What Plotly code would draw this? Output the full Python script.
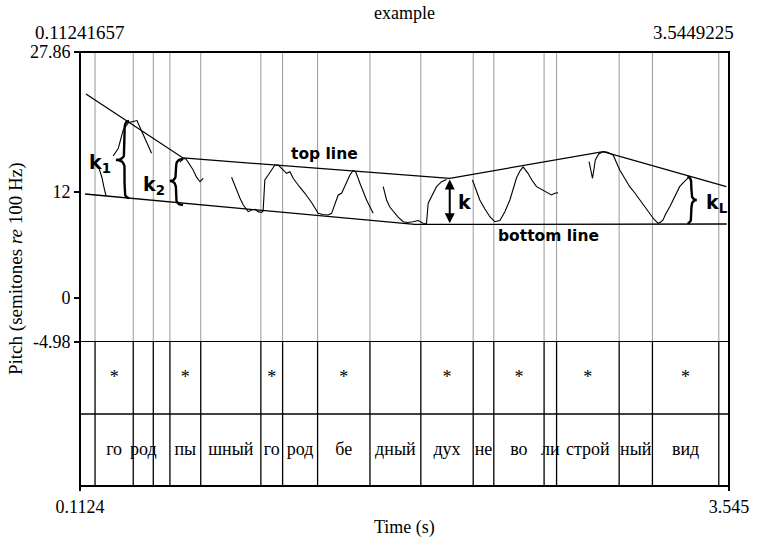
import numpy as np
import plotly.graph_objects as go

# ---------------- data ----------------
T_MIN, T_MAX = 0.1124, 3.545
P_MIN, P_MAX = -4.98, 27.86
pitch_ticks = [27.86, 12, 0, -4.98]
pitch_ticktext = ["27.86", "12", "0", "-4.98"]

# interval boundaries (s)
boundaries = [0.192, 0.394, 0.500, 0.588, 0.751, 1.069, 1.184, 1.369, 1.646,
              1.915, 2.192, 2.301, 2.567, 2.633, 2.964, 3.140, 3.491]
syllables = ["", "го", "род", "", "пы", "шный", "го", "род", "бе", "дный",
             "дух", "не", "во", "ли", "строй", "ный", "вид", ""]
stress = ["", "*", "", "", "*", "", "*", "", "*", "", "*", "", "*", "", "*", "", "*", ""]

# pitch contour segments (time s, semitones re 100 Hz)
seg_t = [
    [0.213, 0.229, 0.239, 0.250],
    [0.288, 0.315, 0.341, 0.368, 0.393, 0.414, 0.424, 0.465, 0.491],
    [0.641, 0.660, 0.673, 0.689, 0.711, 0.728, 0.747, 0.764],
    [0.914, 0.927, 0.941, 0.958, 0.976, 1.002, 1.020, 1.038, 1.055, 1.073, 1.081,
     1.088, 1.090, 1.108, 1.127, 1.143, 1.161, 1.187, 1.205, 1.223, 1.240, 1.270,
     1.302, 1.339, 1.372, 1.397, 1.425, 1.443, 1.460, 1.478, 1.496, 1.522, 1.540,
     1.557, 1.571, 1.593, 1.628, 1.663],
    [1.716, 1.734, 1.751, 1.769, 1.794, 1.822, 1.846, 1.874, 1.901, 1.927, 1.945,
     1.954, 1.972, 1.998, 2.025, 2.051],
    [2.188, 2.206, 2.227, 2.254, 2.280, 2.306, 2.333, 2.359, 2.386, 2.402, 2.421,
     2.439, 2.456, 2.482, 2.502, 2.527, 2.562, 2.588, 2.606, 2.624, 2.641],
    [2.805, 2.814, 2.823, 2.830, 2.838, 2.856, 2.879, 2.899, 2.932, 2.967, 2.994,
     3.020, 3.047, 3.073, 3.099, 3.126, 3.147, 3.170, 3.184, 3.196, 3.210, 3.232,
     3.258, 3.284, 3.311, 3.337],
]
seg_p = [
    [14.72, 13.59, 12.57, 11.55],
    [16.08, 16.96, 19.03, 19.85, 19.99, 20.10, 19.59, 17.52, 16.39],
    [15.40, 15.80, 15.74, 15.18, 14.50, 13.71, 13.17, 13.56],
    [13.67, 12.91, 12.23, 11.33, 10.53, 9.78, 9.97, 10.05, 9.78, 9.69, 9.86,
     12.23, 13.37, 13.93, 14.61, 15.06, 15.06, 14.50, 14.12, 14.31, 13.56, 12.69,
     11.86, 10.76, 9.59, 9.46, 9.40, 9.59, 10.53, 11.67, 11.86, 12.99, 13.93,
     14.45, 14.27, 12.99, 11.10, 9.59],
    [12.61, 11.10, 10.31, 9.78, 9.18, 8.64, 8.55, 8.64, 8.78, 8.46, 8.44,
     10.73, 11.47, 12.61, 13.17, 13.42],
    [13.37, 12.35, 11.10, 10.08, 9.21, 8.64, 8.78, 9.74, 11.10, 12.23, 13.59,
     14.38, 14.84, 14.12, 13.37, 12.61, 12.23, 11.86, 11.67, 11.86, 11.93],
    [15.44, 14.50, 13.56, 14.50, 15.63, 16.31, 16.57, 16.54, 16.20, 14.50, 13.59,
     12.61, 11.89, 11.10, 10.31, 9.59, 8.95, 8.46, 8.61, 8.84, 9.52, 10.34,
     11.55, 12.61, 13.25, 13.74],
]

top_line_t = [0.144, 0.657, 2.068, 2.879, 3.531]
top_line_p = [23.10, 15.86, 13.56, 16.57, 12.61]
bottom_line_t = [0.139, 1.883, 3.533]
bottom_line_p = [11.78, 8.33, 8.38]

# braces: spine time, tip time, arm-end time, bottom, top, tip height
braces = [
    dict(spine=0.348, tip=0.303, arm=0.372, bot=11.33, top=20.05, mid=15.63),
    dict(spine=0.620, tip=0.588, arm=0.657, bot=10.53, top=15.74, mid=13.25),
    dict(spine=3.346, tip=3.374, arm=3.325, bot=8.46, top=13.74, mid=11.10),
]
k_arrow_t = 2.068
k_arrow_p = [8.46, 13.59]

k_labels = ["<b>k<sub>1</sub></b>", "<b>k<sub>2</sub></b>", "<b>k</b>", "<b>k<sub>L</sub></b>"]
k_label_t = [0.218, 0.504, 2.146, 3.482]
k_label_p = [15.29, 12.69, 10.84, 10.65]

line_labels = ["<b>top line</b>", "<b>bottom line</b>"]
line_label_t = [1.408, 2.588]
line_label_p = [16.31, 7.02]

SERIF = "Liberation Serif"
SANS = "DejaVu Sans"

fig = go.Figure()

# ---------------- pitch area ----------------
for st, sp in zip(seg_t, seg_p):
    fig.add_trace(go.Scatter(x=st, y=sp, mode="lines", xaxis="x", yaxis="y",
                             line=dict(color="black", width=1.1), hoverinfo="skip"))

fig.add_trace(go.Scatter(x=top_line_t, y=top_line_p, mode="lines", xaxis="x", yaxis="y",
                         line=dict(color="black", width=1.3), hoverinfo="skip"))
fig.add_trace(go.Scatter(x=bottom_line_t, y=bottom_line_p, mode="lines", xaxis="x", yaxis="y",
                         line=dict(color="black", width=1.3), hoverinfo="skip"))


def bez(p0, c, p1, n=12):
    s = np.linspace(0, 1, n)
    x = (1 - s) ** 2 * p0[0] + 2 * (1 - s) * s * c[0] + s ** 2 * p1[0]
    y = (1 - s) ** 2 * p0[1] + 2 * (1 - s) * s * c[1] + s ** 2 * p1[1]
    return list(x), list(y)


for b in braces:
    r = 0.9
    xs, ys = [], []
    parts = [
        ((b["arm"], b["top"]), (b["spine"], b["top"]), (b["spine"], b["top"] - r)),
        ((b["spine"], b["top"] - r), (b["spine"], b["mid"] + r), (b["spine"], b["mid"] + r)),
        ((b["spine"], b["mid"] + r), (b["spine"], b["mid"]), (b["tip"], b["mid"])),
        ((b["tip"], b["mid"]), (b["spine"], b["mid"]), (b["spine"], b["mid"] - r)),
        ((b["spine"], b["mid"] - r), (b["spine"], b["bot"] + r), (b["spine"], b["bot"] + r)),
        ((b["spine"], b["bot"] + r), (b["spine"], b["bot"]), (b["arm"], b["bot"])),
    ]
    for p0, c, p1 in parts:
        bx, by = bez(p0, c, p1)
        xs += bx
        ys += by
    fig.add_trace(go.Scatter(x=xs, y=ys, mode="lines", xaxis="x", yaxis="y",
                             line=dict(color="black", width=2.4), hoverinfo="skip"))

# ---------------- tiers ----------------
edges = [T_MIN] + boundaries + [T_MAX]
centers = [(a + b) / 2 for a, b in zip(edges[:-1], edges[1:])]
star_x = [c for c, s in zip(centers, stress) if s]
star_txt = [s for s in stress if s]
syl_x = [c for c, s in zip(centers, syllables) if s]
syl_txt = [s for s in syllables if s]
fig.add_trace(go.Scatter(x=star_x, y=[1.5] * len(star_x), mode="text", text=star_txt,
                         xaxis="x", yaxis="y2", textposition="middle center",
                         textfont=dict(family=SERIF, size=18, color="black"), hoverinfo="skip"))
fig.add_trace(go.Scatter(x=syl_x, y=[0.5] * len(syl_x), mode="text", text=syl_txt,
                         xaxis="x", yaxis="y2", textposition="middle center",
                         textfont=dict(family=SERIF, size=18, color="black"), hoverinfo="skip"))

shapes = []
for bt in boundaries:
    shapes.append(dict(type="line", xref="x", yref="y", x0=bt, x1=bt, y0=P_MIN, y1=P_MAX,
                       line=dict(color="#9a9a9a", width=1), layer="below"))
    shapes.append(dict(type="line", xref="x", yref="y2", x0=bt, x1=bt, y0=0, y1=2,
                       line=dict(color="black", width=1.3)))
shapes.append(dict(type="line", xref="paper", yref="y", x0=0, x1=1, y0=P_MIN, y1=P_MIN,
                   line=dict(color="black", width=1.8)))
shapes.append(dict(type="line", xref="paper", yref="y2", x0=0, x1=1, y0=1, y1=1,
                   line=dict(color="black", width=1.3)))
shapes.append(dict(type="rect", xref="paper", yref="paper", x0=0, x1=1, y0=0, y1=1,
                   line=dict(color="black", width=2)))

annotations = []
for txt, t, p in zip(k_labels, k_label_t, k_label_p):
    annotations.append(dict(x=t, y=p, xref="x", yref="y", text=txt, showarrow=False,
                            font=dict(family=SANS, size=19, color="black")))
for txt, t, p in zip(line_labels, line_label_t, line_label_p):
    annotations.append(dict(x=t, y=p, xref="x", yref="y", text=txt, showarrow=False,
                            font=dict(family=SANS, size=15.5, color="black")))
annotations.append(dict(x=k_arrow_t, y=k_arrow_p[0], ax=k_arrow_t, ay=k_arrow_p[1],
                        xref="x", yref="y", axref="x", ayref="y", text="", showarrow=True,
                        arrowhead=2, arrowside="end+start", arrowsize=1, arrowwidth=2,
                        arrowcolor="black"))
# top marks, title, axis titles
annotations.append(dict(x=0.11241657, y=1.0438, xref="x", yref="paper", text="0.11241657",
                        showarrow=False, xanchor="center", yanchor="middle",
                        font=dict(family=SERIF, size=19, color="black")))
annotations.append(dict(x=1, y=1.0438, xref="paper", yref="paper", text="3.5449225",
                        showarrow=False, xanchor="right", yanchor="middle", xshift=7,
                        font=dict(family=SERIF, size=19, color="black")))
annotations.append(dict(x=0.5, y=1.0899, xref="paper", yref="paper", text="example",
                        showarrow=False, xanchor="center", yanchor="middle",
                        font=dict(family=SERIF, size=18, color="black")))
annotations.append(dict(x=0.5, y=-0.0945, xref="paper", yref="paper", text="Time (s)",
                        showarrow=False, xanchor="center", yanchor="middle",
                        font=dict(family=SERIF, size=18, color="black")))
annotations.append(dict(x=-0.0986, y=0.5, xref="paper", yref="paper",
                        text="Pitch (semitones <i>re</i> 100 Hz)", textangle=-90,
                        showarrow=False, xanchor="center", yanchor="middle",
                        font=dict(family=SERIF, size=19, color="black")))

TIER_FRAC = 144 / 434

fig.update_layout(
    width=770, height=538,
    margin=dict(l=80, r=41, t=52, b=52, pad=0),
    paper_bgcolor="white", plot_bgcolor="white",
    showlegend=False,
    xaxis=dict(range=[T_MIN, T_MAX], anchor="y2", tickvals=[T_MIN, T_MAX],
               ticktext=["0.1124", "3.545"], ticks="outside", ticklen=4, tickwidth=1.5,
               tickcolor="black", showgrid=False, zeroline=False, showline=False,
               tickfont=dict(family=SERIF, size=18, color="black"), fixedrange=True),
    yaxis=dict(domain=[TIER_FRAC, 1], range=[P_MIN, P_MAX], anchor="x",
               tickvals=pitch_ticks, ticktext=pitch_ticktext, ticks="outside", ticklen=5,
               tickwidth=1.5, tickcolor="black", showgrid=False, zeroline=False,
               showline=False, tickfont=dict(family=SERIF, size=18, color="black"),
               fixedrange=True),
    yaxis2=dict(domain=[0, TIER_FRAC], range=[0, 2], anchor="x", showticklabels=False,
                ticks="", showgrid=False, zeroline=False, showline=False, fixedrange=True),
    shapes=shapes,
    annotations=annotations,
)

# remove the default 8px page margin so the 770x538 figure fills the window exactly
fig.write_html("out.html", config={"displayModeBar": False},
               post_script="document.body.style.margin='0';document.body.style.overflow='hidden';")
